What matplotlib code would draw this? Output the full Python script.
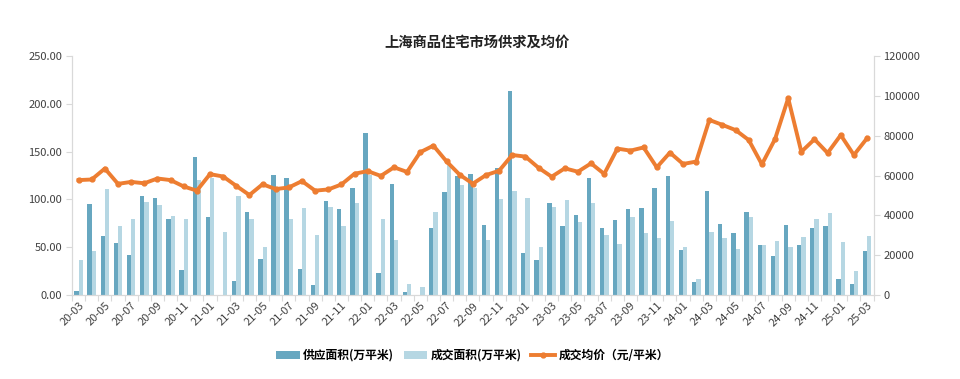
import matplotlib
matplotlib.use('Agg')
import matplotlib.pyplot as plt
import numpy as np

plt.rcParams['font.family'] = ['Noto Sans CJK SC', 'DejaVu Sans']

# months 2020-03 .. 2025-03
months = []
for y in range(2020, 2026):
    for m in range(1, 13):
        if (y == 2020 and m < 3) or (y == 2025 and m > 3):
            continue
        months.append('%02d-%02d' % (y % 100, m))

supply = [4.5, 95, 62, 54, 42, 104, 102, 80, 26, 144,
          82, 0, 15, 87, 38, 126, 122, 27, 10, 98,
          90, 112, 169, 23, 116, 3.5, 0, 70, 108, 125,
          127, 73, 133, 213, 44, 37, 96, 72, 84, 122,
          70, 78, 90, 91, 112, 125, 47, 13.5, 109, 74,
          65, 87, 52, 41, 73, 52, 70, 72, 16.4, 11, 46]
deal = [36.6, 46, 111, 72, 80, 97, 94, 83, 79, 120,
        122, 66, 104, 80, 50.6, 110, 80, 91, 63, 92,
        72, 96, 126, 80, 58, 12, 8, 86.5, 136, 115,
        112, 58, 100, 109, 101, 50, 92, 99, 76, 96,
        63, 53, 82, 65, 60, 77, 50, 16.4, 66, 60,
        48, 82, 52, 56, 50.6, 61, 80, 85.6, 55.4, 25, 62]
price = [57700, 58000, 63500, 55800, 56800, 56100, 58500, 57700, 54500, 52400,
         60700, 59500, 54800, 50200, 55600, 53200, 54000, 57200, 52400, 53000,
         55500, 60900, 62200, 59800, 64100, 61800, 71700, 75000, 67100, 60400,
         55900, 60200, 62400, 70300, 69500, 63900, 59400, 63600, 61900, 66100,
         60800, 73500, 72500, 74100, 64100, 71500, 65800, 67000, 87900, 85400,
         82800, 77800, 65600, 78300, 98800, 71900, 78200, 71300, 80300, 70300, 78700]

dark = '#67A7C0'
light = '#B6D7E3'
orange = '#ED7D31'
gray = '#D9D9D9'
txt = '#404040'

fig = plt.figure(figsize=(9.6, 3.79), dpi=100)
ax = fig.add_axes([0.075, 0.2216, 0.835, 0.6306])
ax2 = ax.twinx()

x = np.arange(len(months))
w = 0.33
ax.bar(x - w/2, supply, w, color=dark, label='供应面积(万平米)', zorder=2)
ax.bar(x + w/2, deal, w, color=light, label='成交面积(万平米)', zorder=2)
ax2.plot(x, price, color=orange, lw=2.8, marker='o', ms=3.5, label='成交均价（元/平米）', zorder=3)

ax.set_xlim(-0.5, len(months) - 0.5)
ax.set_ylim(0, 250)
ax2.set_ylim(0, 120000)
ax.set_yticks(np.arange(0, 251, 50))
ax.set_yticklabels(['%.2f' % v for v in np.arange(0, 251, 50)])
ax2.set_yticks(np.arange(0, 120001, 20000))

ax.set_xticks(np.arange(-0.5, len(months), 1))
ax.set_xticklabels([])
ax.set_xticks(x[::2], minor=True)
ax.set_xticklabels(months[::2], minor=True, rotation=45, ha='right', va='top',
                   rotation_mode='anchor')
ax.tick_params(axis='x', which='major', length=4, color=gray)
ax.tick_params(axis='x', which='minor', length=0, pad=4, labelsize=8, labelcolor=txt)
ax.tick_params(axis='y', length=4, color=gray, labelsize=8, labelcolor=txt, pad=3)
ax2.tick_params(axis='y', length=4, color=gray, labelsize=8, labelcolor=txt, pad=3)

for a in (ax, ax2):
    a.spines['top'].set_visible(False)
    for s in ('left', 'right', 'bottom'):
        a.spines[s].set_color(gray)

fig.text(0.497, 0.888, '上海商品住宅市场供求及均价', ha='center', va='center',
         fontsize=10.3, fontweight='bold', color='#222222')

h1, l1 = ax.get_legend_handles_labels()
h2, l2 = ax2.get_legend_handles_labels()
fig.legend(h1 + h2, l1 + l2, loc='center', bbox_to_anchor=(0.492, 0.062), ncol=3,
           frameon=False, handlelength=2.0, handleheight=0.6,
           columnspacing=0.8, handletextpad=0.3,
           prop={'size': 8.5, 'weight': 'bold'})

fig.savefig('out.png', dpi=100)
